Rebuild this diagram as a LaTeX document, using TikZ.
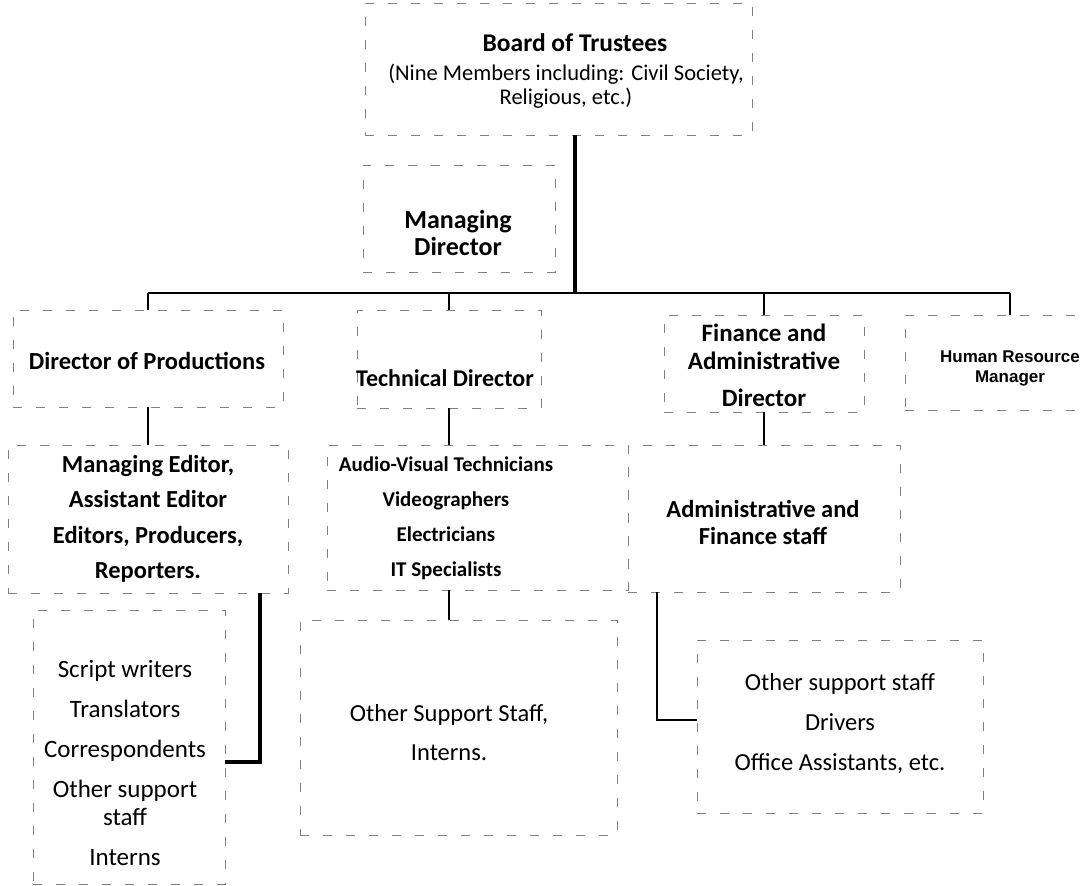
\documentclass[tikz,border=0pt]{standalone}
\usepackage{fontspec}
\setmainfont{Carlito}
\newfontfamily\hrfont{Liberation Sans}
\tikzset{
  box/.style={draw=black!50, line width=0.8pt, dash pattern=on 9pt off 14pt, inner sep=0pt},
  conn/.style={line width=2.8pt, black},
  trunk/.style={line width=3.4pt, black},
  lbl/.style={align=center, inner sep=0pt, text=black},
}
\begin{document}
\begin{tikzpicture}[x=1pt,y=-1pt]
\useasboundingbox[fill=white] (0,0) rectangle (1080,886);
% boxes
\node[box, minimum width=387pt, minimum height=132pt] (botbox) at (558.5,69) {};
\node[box, minimum width=192pt, minimum height=107pt] (mdbox) at (459,218.5) {};
\node[box, minimum width=270pt, minimum height=97pt] (dopbox) at (148,358.5) {};
\node[box, minimum width=184pt, minimum height=98pt] (tdbox) at (449,359) {};
\node[box, minimum width=200pt, minimum height=97pt] (fadbox) at (764,363.5) {};
\node[box, minimum width=210pt, minimum height=95pt] (hrbox) at (1010,362.5) {};
\node[box, minimum width=280pt, minimum height=148pt] (mebox) at (148,519) {};
\node[box, minimum width=301pt, minimum height=145pt] (avbox) at (477.5,517.5) {};
\node[box, minimum width=272pt, minimum height=147pt] (admbox) at (764,518.5) {};
\node[box, minimum width=192pt, minimum height=274pt] (scbox) at (129,747) {};
\node[box, minimum width=317pt, minimum height=215pt] (osbox) at (458.5,727.5) {};
\node[box, minimum width=286pt, minimum height=173pt] (drvbox) at (840,726.5) {};
% connectors
\coordinate (busL) at (148,293);
\coordinate (busR) at (1010,293);
\coordinate (trk) at (575,293);
\draw[trunk] (trk |- botbox.south) -- (trk);
\draw[conn] (busL) -- (busR);
\draw[conn] (busL) -- (dopbox.north);
\draw[conn] (busR) -- (hrbox.north);
\draw[conn] (tdbox.north |- busL) -- (tdbox.north);
\draw[conn] (fadbox.north |- busL) -- (fadbox.north);
\draw[conn] (dopbox.south) -- (mebox.north);
\draw[conn] (tdbox.south) -- (tdbox.south |- avbox.north);
\draw[conn] (fadbox.south) -- (admbox.north);
\coordinate (k1) at (260,762);
\draw[trunk] (k1 |- mebox.south) -- (k1) -- (k1 -| scbox.east);
\draw[conn] (tdbox.south |- avbox.south) -- (tdbox.south |- osbox.north);
\coordinate (k2) at (657,720);
\draw[conn] (k2 |- admbox.south) -- (k2) -- (k2 -| drvbox.west);
% texts
\node[lbl, font=\bfseries\fontsize{25.5}{28}\selectfont] (bot1) at (575,43) {Board of Trustees};
\node[lbl, font=\fontsize{22.5}{24}\selectfont] (bot2) at (566,86) {(Nine Members including: Civil Society,\\Religious, etc.)};
\node[lbl, font=\bfseries\fontsize{26}{27}\selectfont] (md) at (458,233) {Managing\\Director};
\node[lbl, font=\bfseries\fontsize{24.5}{28}\selectfont] (dop) at (147,361) {Director of Productions};
\node[lbl, font=\bfseries\fontsize{24}{28}\selectfont] (td) at (445,378) {Technical Director};
\node[lbl, font=\bfseries\fontsize{25}{28}\selectfont] (fad) at (764,365) {Finance and\\Administrative\\[9pt]Director};
\node[lbl, font=\hrfont\bfseries\fontsize{17}{20}\selectfont] (hr) at (1010,368) {Human Resource\\Manager};
\node[lbl, font=\bfseries\fontsize{24.5}{35.5}\selectfont] (me) at (148,519) {Managing Editor,\\Assistant Editor\\Editors, Producers,\\Reporters.};
\node[lbl, font=\bfseries\fontsize{21}{35}\selectfont] (av) at (446,518) {Audio-Visual Technicians\\Videographers\\Electricians\\IT Specialists};
\node[lbl, font=\bfseries\fontsize{24.5}{27}\selectfont] (adm) at (763,522) {Administrative and\\Finance staff};
\node[lbl, font=\fontsize{25}{28}\selectfont] (sc) at (125,763) {Script writers\\[12pt]Translators\\[12pt]Correspondents\\[12pt]Other support\\staff\\[12pt]Interns};
\node[lbl, font=\fontsize{24.5}{39}\selectfont] (os) at (449,733) {Other Support Staff,\\Interns.};
\node[lbl, font=\fontsize{24.5}{40}\selectfont] (drv) at (840,724) {Other support staff\\Drivers\\Office Assistants, etc.};
\end{tikzpicture}
\end{document}
